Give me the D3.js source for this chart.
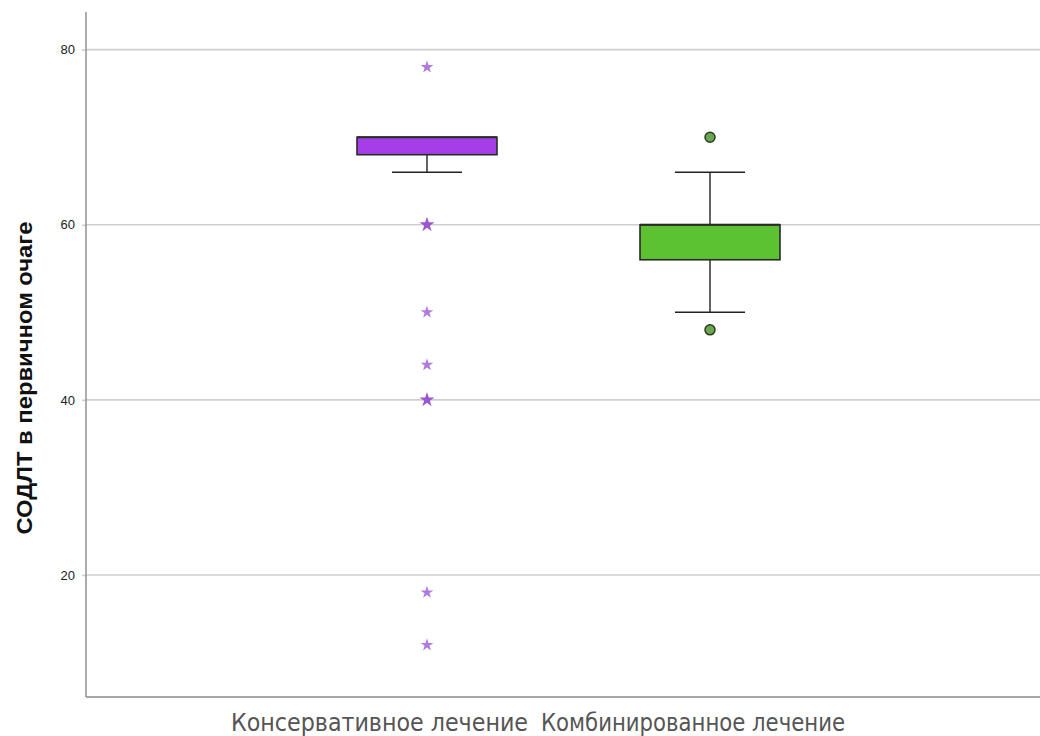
<!DOCTYPE html>
<html>
<head>
<meta charset="utf-8">
<script src="https://cdn.jsdelivr.net/npm/d3@7"></script>
<style>
  html, body { margin: 0; padding: 0; background: #fff; }
  svg { display: block; }
</style>
</head>
<body>
<svg id="chart" width="1040" height="736"></svg>
<script>
// Box plot summary per treatment group
const categories = ["Консервативное лечение", "Комбинированное лечение"];
const q1 = [68, 56];
const median = [70, 60];
const q3 = [70, 60];
const whiskerLow = [66, 50];
const whiskerHigh = [70, 66];
// Extreme values (stars) and outliers (circles)
const extremes = [[78, 60, 60, 50, 44, 40, 40, 18, 12], []];
const outliers = [[], [70, 48]];
const yTicks = [20, 40, 60, 80];
const yTitle = "СОДЛТ в первичном очаге";

const fills = ["#a53ee6", "#5cc232"];
const markColor = ["#a868d8", "#6aa84f"];

const svg = d3.select("#chart");
const plotLeft = 86, plotRight = 1040, plotTop = 12, plotBottom = 697;

const y = d3.scaleLinear().domain([6.06, 84.3]).range([plotBottom, plotTop]);
const x = d3.scalePoint().domain(categories).range([427, 710]);
const boxW = 140, capW = 70;

// gridlines
svg.append("g").selectAll("line").data(yTicks).join("line")
  .attr("x1", plotLeft).attr("x2", plotRight)
  .attr("y1", d => y(d)).attr("y2", d => y(d))
  .attr("stroke", "#cfcfcf").attr("stroke-width", 1.6);

// y axis
const yAxis = d3.axisLeft(y).tickValues(yTicks).tickSize(4).tickPadding(7);
const gy = svg.append("g").attr("transform", `translate(${plotLeft},0)`).call(yAxis);
gy.select(".domain").remove();
gy.selectAll(".tick line").attr("stroke", "#cfcfcf").attr("stroke-width", 1.6);
gy.selectAll(".tick text").attr("fill", "#222")
  .style("font-family", "Arial, 'Liberation Sans', sans-serif").style("font-size", "13px");

// axis frame
svg.append("line").attr("x1", plotLeft).attr("x2", plotLeft).attr("y1", plotTop).attr("y2", plotBottom)
  .attr("stroke", "#8a8a8a").attr("stroke-width", 1.4);
svg.append("line").attr("x1", plotLeft).attr("x2", plotRight).attr("y1", plotBottom).attr("y2", plotBottom)
  .attr("stroke", "#8a8a8a").attr("stroke-width", 1.4);

// y title
svg.append("text")
  .attr("transform", `translate(32,378) rotate(-90)`)
  .attr("text-anchor", "middle")
  .attr("textLength", 313).attr("lengthAdjust", "spacingAndGlyphs")
  .style("font-family", "'Liberation Sans', Arial, sans-serif")
  .style("font-weight", "bold").style("font-size", "22px")
  .attr("fill", "#111")
  .text(yTitle);

// category labels
const labelOffsets = [[-196, 101], [-169, 135]];
categories.forEach((c, i) => {
  svg.append("text")
    .attr("x", x(c) + labelOffsets[i][0])
    .attr("y", 731)
    .attr("textLength", labelOffsets[i][1] - labelOffsets[i][0])
    .attr("lengthAdjust", "spacingAndGlyphs")
    .style("font-family", "'DejaVu Sans Condensed', 'DejaVu Sans', sans-serif")
    .style("font-size", "24px")
    .attr("fill", "#555")
    .text(c);
});

// boxes
categories.forEach((c, i) => {
  const cx = x(c);
  const g = svg.append("g");
  // whiskers
  g.append("line").attr("x1", cx).attr("x2", cx)
    .attr("y1", y(whiskerLow[i])).attr("y2", y(q1[i]))
    .attr("stroke", "#222").attr("stroke-width", 1.4);
  g.append("line").attr("x1", cx).attr("x2", cx)
    .attr("y1", y(whiskerHigh[i])).attr("y2", y(q3[i]))
    .attr("stroke", "#222").attr("stroke-width", 1.4);
  [whiskerLow[i], whiskerHigh[i]].forEach(v => {
    if ((v === q1[i] || v === q3[i])) return;
    g.append("line").attr("x1", cx - capW / 2).attr("x2", cx + capW / 2)
      .attr("y1", y(v)).attr("y2", y(v))
      .attr("stroke", "#222").attr("stroke-width", 1.4);
  });
  // box
  g.append("rect")
    .attr("x", cx - boxW / 2).attr("width", boxW)
    .attr("y", y(q3[i])).attr("height", y(q1[i]) - y(q3[i]))
    .attr("fill", fills[i]).attr("stroke", "#2a2a2a").attr("stroke-width", 1.6);
  g.append("line").attr("x1", cx - boxW / 2).attr("x2", cx + boxW / 2)
    .attr("y1", y(median[i])).attr("y2", y(median[i]))
    .attr("stroke", "#2a2a2a").attr("stroke-width", 2);

  // extreme values as stars; repeated values drawn darker
  const counts = d3.rollup(extremes[i], v => v.length, d => d);
  const star = d3.symbol().type(d3.symbolStar);
  g.selectAll(".star").data(Array.from(counts)).join("path")
    .attr("class", "star")
    .attr("transform", d => `translate(${cx},${y(d[0])})`)
    .attr("d", d => star.size(d[1] > 1 ? 70 : 50)())
    .attr("fill", d => d[1] > 1 ? "#9a55d0" : "#b07ae0");

  // outliers as circles
  g.selectAll(".out").data(outliers[i]).join("circle")
    .attr("class", "out")
    .attr("cx", cx).attr("cy", d => y(d)).attr("r", 5)
    .attr("fill", markColor[i]).attr("stroke", "#2c3b25").attr("stroke-width", 1.5);
});
</script>
</body>
</html>
